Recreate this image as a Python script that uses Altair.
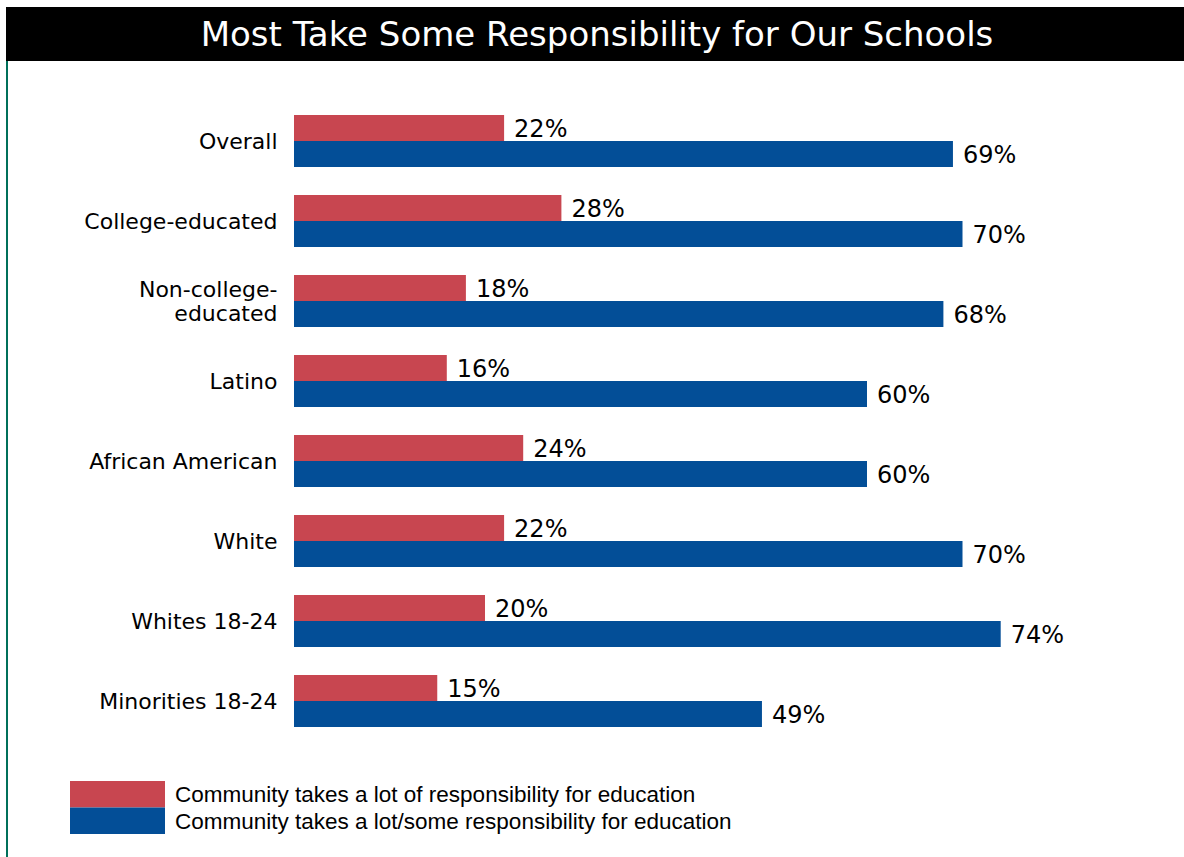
import altair as alt
import pandas as pd

categories = ["Overall", "College-educated", "Non-college-educated", "Latino",
              "African American", "White", "Whites 18-24", "Minorities 18-24"]
series = ["Community takes a lot of responsibility for education",
          "Community takes a lot/some responsibility for education"]
a_lot = [22, 28, 18, 16, 24, 22, 20, 15]
lot_some = [69, 70, 68, 60, 60, 70, 74, 49]
colors = ["#c84650", "#034e97"]
title_text = "Most Take Some Responsibility for Our Schools"

rows = []
for c, v1, v2 in zip(categories, a_lot, lot_some):
    rows.append({"category": c, "series": series[0], "value": v1, "label": f"{v1}%"})
    rows.append({"category": c, "series": series[1], "value": v2, "label": f"{v2}%"})
df = pd.DataFrame(rows)

W, H = 764, 640
LEFT, TOP = 294, 101

y_enc = alt.Y("category:N", sort=categories, title=None,
              scale=alt.Scale(paddingInner=0.35, paddingOuter=0.175),
              axis=alt.Axis(domain=False, ticks=False, labelPadding=17,
                            labelFont="DejaVu Sans", labelFontSize=22, labelColor="#000",
                            labelLineHeight=24, labelLimit=300,
                            labelOffset={"condition": {"test": "datum.value == 'Non-college-educated'",
                                                       "value": -11}, "value": 1},
                            labelExpr="datum.value == 'Non-college-educated' ? ['Non-college-', 'educated'] : datum.label"))
yoff_enc = alt.YOffset("series:N", sort=series, scale=alt.Scale(paddingInner=0, paddingOuter=0))
x_enc = alt.X("value:Q", scale=alt.Scale(domain=[0, 80]), axis=None)

bars = alt.Chart(df).mark_bar(cornerRadius=0).encode(
    y=y_enc, yOffset=yoff_enc, x=x_enc,
    color=alt.Color("series:N", scale=alt.Scale(domain=series, range=colors), legend=None),
)
labels = alt.Chart(df).mark_text(align="left", baseline="middle", dx=10, dy=2,
                                 font="DejaVu Sans", fontSize=24, color="#000").encode(
    y=y_enc, yOffset=yoff_enc, x=x_enc, text="label:N"
)

one = pd.DataFrame({"t": [title_text]})
title_bar = alt.Chart(one).mark_rect(color="#000").encode(
    x=alt.value(6 - LEFT), x2=alt.value(1184 - LEFT),
    y=alt.value(7 - TOP), y2=alt.value(61 - TOP))
title = alt.Chart(one).mark_text(color="#fff", font="DejaVu Sans", fontSize=34,
                                 align="center", baseline="middle").encode(
    x=alt.value(597 - LEFT), y=alt.value(36 - TOP), text="t:N")
green = alt.Chart(one).mark_rule(color="#00705a", strokeWidth=2).encode(
    x=alt.value(7 - LEFT), y=alt.value(61 - TOP), y2=alt.value(857 - TOP))

legend_layers = []
for i, (s, col) in enumerate(zip(series, colors)):
    d = pd.DataFrame({"s": [s]})
    y0 = 781 + i * 26.5 - TOP
    legend_layers.append(alt.Chart(d).mark_rect(color=col).encode(
        x=alt.value(70 - LEFT), x2=alt.value(165 - LEFT),
        y=alt.value(y0), y2=alt.value(y0 + 26.5)))
    legend_layers.append(alt.Chart(d).mark_text(align="left", baseline="middle",
                                                font="Liberation Sans", fontSize=22.5,
                                                color="#000").encode(
        x=alt.value(175 - LEFT), y=alt.value(y0 + 14), text="s:N"))

chart = alt.layer(title_bar, title, green, bars, labels, *legend_layers).properties(
    width=W, height=H,
    autosize=alt.AutoSizeParams(type="none"),
    padding={"left": LEFT, "top": TOP, "right": 1184 - LEFT - W, "bottom": 857 - TOP - H},
    background="#ffffff",
).configure_view(stroke=None)

chart.save("out.html", embed_options={"renderer": "svg", "actions": False})
